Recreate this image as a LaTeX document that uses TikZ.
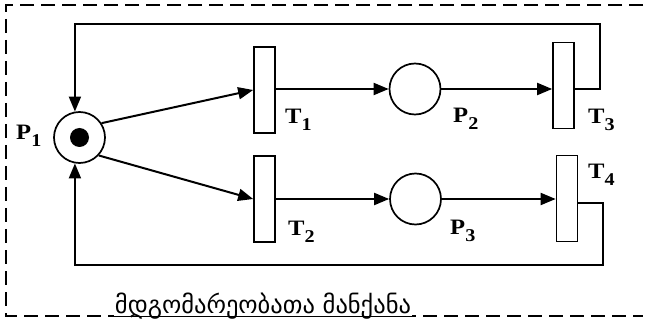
\documentclass[tikz,border=0pt]{standalone}
\usepackage{fontspec}
\setmainfont{Liberation Serif}
\newfontfamily\geofont{DejaVu Sans}
\usetikzlibrary{arrows.meta}
\newcommand{\pnlabel}[2]{\scalebox{1.12}[1]{#1\raisebox{-7pt}{\fontsize{18}{20}\selectfont #2}}}

\begin{document}
\begin{tikzpicture}[x=1pt,y=-1pt,
	lbl/.style={font=\fontsize{22}{26}\selectfont\bfseries, inner sep=0pt, anchor=base west},
	place/.style={draw, circle, line width=1.7pt, minimum size=51pt, inner sep=0pt},
	trans/.style={draw, rectangle, line width=1.7pt, minimum width=21pt, minimum height=86pt, inner sep=0pt},
	arc/.style={-{Triangle[length=15pt,width=12pt]}, line width=2pt},
	frame/.style={line width=1.5pt, dash pattern=on 14pt off 7pt}]
	\useasboundingbox (0,0) rectangle (648,323);
	\draw[frame] (643,5) -- (6,5) -- (6,316) -- (643,316);
	% places
	\node[place] (P1) at (79.5,137.5) {};
	\node[circle, fill, inner sep=0pt, minimum size=19pt] (tok) at (P1) {};
	\node[place] (P2) at (415,89) {};
	\node[place] (P3) at (415.5,199) {};
	% transitions
	\node[trans] (T1) at (264.5,90) {};
	\node[trans] (T2) at (264.5,199) {};
	\node[trans] (T3) at (563.5,85.5) {};
	\node[trans] (T4) at (567,198.5) {};
	% labels
	\node[lbl] (lP1) at (16,140) {\pnlabel{P}{1}};
	\node[lbl] (lT1) at (285,124) {\pnlabel{T}{1}};
	\node[lbl] (lT2) at (288,236) {\pnlabel{T}{2}};
	\node[lbl] (lT3) at (588,124) {\pnlabel{T}{3}};
	\node[lbl] (lT4) at (588,179) {\pnlabel{T}{4}};
	\node[lbl] (lP2) at (453,123) {\pnlabel{P}{2}};
	\node[lbl] (lP3) at (450,235) {\pnlabel{P}{3}};
	% arcs
	\draw[arc] (P1.33) -- (T1.west);
	\draw[arc] (P1.-43) -- (T2.west);
	\draw[arc] (T1.east |- P2) -- (P2.west);
	\draw[arc] (P2.east) -- (T3.west |- P2.east);
	\draw[arc] (T2.east |- P3) -- (P3.west);
	\draw[arc] (P3.east) -- (T4.west |- P3.east);
	\coordinate (topR) at (600,24);
	\coordinate (botR) at (603,265);
	\draw[arc] (T3.east |- P2) -| (topR) -| (P1.100);
	\draw[arc] ([yshift=-4.5pt]T4.east) -| (botR) -| (P1.260);
	% caption
	\node[font=\geofont\fontsize{24.5}{28}\selectfont, fill=white, inner xsep=1pt, inner ysep=4pt, anchor=base] (cap) at (263,313) {მდგომარეობათა მანქანა};
	\draw[line width=1.2pt] ([yshift=-3.5pt]cap.base west) -- ([yshift=-3.5pt]cap.base east);
\end{tikzpicture}
\end{document}
